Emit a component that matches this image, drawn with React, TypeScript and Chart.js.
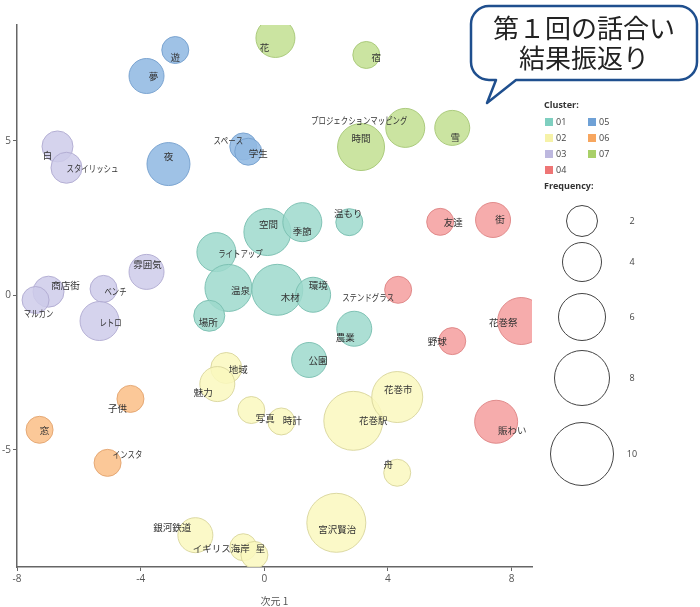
import React, { useEffect, useRef } from "react";
import { Chart, registerables } from "chart.js";

Chart.register(...registerables);

// ---- data ----
const clusterNames = ["01", "02", "03", "04", "05", "06", "07"];

const words = [
  "遊", "夢", "夜", "スペース", "学生",
  "花", "宿", "時間", "プロジェクションマッピング", "雪",
  "白", "スタイリッシュ", "商店街", "マルカン", "ベンチ", "雰囲気", "レトロ",
  "空間", "季節", "温もり", "ライトアップ", "温泉", "木材", "環境", "場所", "農業", "公園",
  "友達", "街", "ステンドグラス", "花巻祭", "野球", "賑わい",
  "地域", "魅力", "写真", "時計", "花巻駅", "花巻市", "舟", "宮沢賢治", "銀河鉄道", "イギリス海岸", "星",
  "子供", "窓", "インスタ",
];

const clusterOf = [
  "05", "05", "05", "05", "05",
  "07", "07", "07", "07", "07",
  "03", "03", "03", "03", "03", "03", "03",
  "01", "01", "01", "01", "01", "01", "01", "01", "01", "01",
  "04", "04", "04", "04", "04", "04",
  "02", "02", "02", "02", "02", "02", "02", "02", "02", "02", "02",
  "06", "06", "06",
];

const dim1 = [
  -2.88, -3.81, -3.10, -0.68, -0.52,
  0.36, 3.30, 3.13, 4.56, 6.08,
  -6.69, -6.40, -6.98, -7.40, -5.20, -3.81, -5.33,
  0.10, 1.23, 2.75, -1.55, -1.16, 0.42, 1.58, -1.78, 2.91, 1.45,
  5.69, 7.40, 4.33, 8.31, 6.08, 7.50,
  -1.23, -1.52, -0.42, 0.55, 2.88, 4.30, 4.30, 2.33, -2.23, -0.68, -0.32,
  -4.33, -7.27, -5.07,
];

const dim2 = [
  7.94, 7.10, 4.25, 4.82, 4.65,
  8.33, 7.78, 4.80, 5.42, 5.42,
  4.82, 4.13, 0.12, -0.15, 0.21, 0.76, -0.83,
  2.05, 2.37, 2.37, 1.40, 0.24, 0.18, 0.02, -0.66, -1.08, -2.09,
  2.38, 2.44, 0.18, -0.83, -1.48, -4.09,
  -2.35, -2.87, -3.71, -4.08, -4.06, -3.29, -5.74, -7.36, -7.76, -8.15, -8.40,
  -3.35, -4.35, -5.42,
];

const frequency = [
  1, 3, 5, 1, 1,
  4, 1, 6, 4, 3,
  2, 2, 2, 1, 1, 3, 4,
  6, 4, 1, 4, 6, 7, 3, 2, 3, 3,
  1, 3, 1, 6, 1, 5,
  2, 3, 1, 1, 9, 7, 1, 9, 3, 1, 1,
  1, 1, 1,
];

const xTicks = [-8, -4, 0, 4, 8];
const yTicks = [-5, 0, 5];
const legendFrequencies = [2, 4, 6, 8, 10];
const xAxisTitle = "次元 1";
const calloutLines = ["第１回の話合い", "結果振返り"];

// ---- styles ----
const labelDx = [
  0, 7, 0, -15, 10,
  -11, 10, 0, -46, 3,
  -10, 26, 17, 3, 12, 1, 11,
  1, 0, -1, 24, 12, 13, 5, -1, -9, 9,
  13, 7, -30, -18, -15, 16,
  12, -14, 14, 11, 20, 1, -9, 1, -23, -22, 6,
  -13, 5, 20,
];
const labelDy = [
  7, 0, -8, -6, 2,
  9, 2, -9, -8, 9,
  9, 1, -6, 13, 2, -8, 1,
  -8, 9, -9, 1, 2, 8, -9, 7, 9, 0,
  1, -1, 8, 1, 0, 9,
  1, 8, 8, -1, 0, -8, -8, 7, -8, 1, -7,
  9, 1, -8,
];

const fillColors: Record<string, string> = {
  "01": "rgba(158,217,204,0.85)",
  "02": "rgba(250,248,190,0.85)",
  "03": "rgba(206,203,234,0.85)",
  "04": "rgba(245,160,160,0.88)",
  "05": "rgba(146,186,226,0.88)",
  "06": "rgba(250,192,138,0.88)",
  "07": "rgba(196,224,148,0.88)",
};
const borderColors: Record<string, string> = {
  "01": "rgba(120,190,175,0.9)",
  "02": "rgba(216,213,155,0.9)",
  "03": "rgba(175,170,208,0.9)",
  "04": "rgba(222,132,132,0.9)",
  "05": "rgba(115,158,205,0.9)",
  "06": "rgba(226,163,110,0.9)",
  "07": "rgba(165,198,116,0.9)",
};
const swatchColors: Record<string, string> = {
  "01": "#7fcfc0",
  "02": "#f6f2a8",
  "03": "#bdb8df",
  "04": "#ee7575",
  "05": "#6fa1d6",
  "06": "#f7a65f",
  "07": "#a9d068",
};

const radiusOf = (f: number) => 11.5 + 2 * f;
const JP = "'Noto Sans CJK JP', 'Noto Sans', sans-serif";
const LAT = "'Open Sans', 'Liberation Sans', sans-serif";
const isKana = (s: string) => /^[\u30A0-\u30FF]+$/.test(s);

const overlayPlugin = {
  id: "overlay",
  afterDatasetsDraw(chart: any) {
    const ctx = chart.ctx as CanvasRenderingContext2D;
    ctx.save();
    ctx.font = `9.5px ${JP}`;
    ctx.fillStyle = "#333";
    ctx.textAlign = "center";
    ctx.textBaseline = "middle";
    chart.data.datasets.forEach((ds: any, di: number) => {
      const meta = chart.getDatasetMeta(di);
      meta.data.forEach((el: any, j: number) => {
        const idx = ds.data[j].i;
        const t = words[idx];
        const w = ctx.measureText(t).width;
        const x = el.x + labelDx[idx];
        const y = el.y + labelDy[idx];
        if (isKana(t)) ctx.fillText(t, x, y, w * 0.78);
        else ctx.fillText(t, x, y);
      });
    });
    ctx.restore();
  },
  afterDraw(chart: any) {
    const ctx = chart.ctx as CanvasRenderingContext2D;
    ctx.save();

    // legend: clusters
    ctx.fillStyle = "#333";
    ctx.textBaseline = "middle";
    ctx.textAlign = "left";
    ctx.font = `bold 9px ${LAT}`;
    ctx.fillText("Cluster:", 544, 105);
    ctx.font = `9px ${LAT}`;
    clusterNames.forEach((c, k) => {
      const col = k < 4 ? 0 : 1;
      const row = k < 4 ? k : k - 4;
      const sx = col === 0 ? 545 : 588;
      const sy = 122 + row * 16;
      ctx.fillStyle = swatchColors[c];
      ctx.fillRect(sx, sy - 4, 8, 8);
      ctx.fillStyle = "#444";
      ctx.fillText(c, sx + 11, sy);
    });

    // legend: frequency
    ctx.font = `bold 9px ${LAT}`;
    ctx.fillStyle = "#333";
    ctx.fillText("Frequency:", 544, 186);
    const cy = [221, 262, 317, 378, 454];
    ctx.strokeStyle = "#444";
    ctx.lineWidth = 1;
    ctx.font = `9px ${LAT}`;
    legendFrequencies.forEach((f, k) => {
      ctx.beginPath();
      ctx.arc(582, cy[k], radiusOf(f), 0, Math.PI * 2);
      ctx.stroke();
      ctx.fillStyle = "#444";
      ctx.textAlign = "center";
      ctx.fillText(String(f), 632, cy[k]);
    });

    // callout balloon
    const x0 = 471, y0 = 6, x1 = 697, y1 = 80, r = 18;
    ctx.beginPath();
    ctx.moveTo(x0 + r, y0);
    ctx.lineTo(x1 - r, y0);
    ctx.arcTo(x1, y0, x1, y0 + r, r);
    ctx.lineTo(x1, y1 - r);
    ctx.arcTo(x1, y1, x1 - r, y1, r);
    ctx.lineTo(516, y1);
    ctx.lineTo(487, 103);
    ctx.lineTo(496, y1);
    ctx.lineTo(x0 + r, y1);
    ctx.arcTo(x0, y1, x0, y1 - r, r);
    ctx.lineTo(x0, y0 + r);
    ctx.arcTo(x0, y0, x0 + r, y0, r);
    ctx.closePath();
    ctx.fillStyle = "#fff";
    ctx.fill();
    ctx.strokeStyle = "#1f4f8e";
    ctx.lineWidth = 2.5;
    ctx.lineJoin = "round";
    ctx.stroke();
    ctx.fillStyle = "#222";
    ctx.textAlign = "center";
    ctx.font = `26px ${JP}`;
    ctx.fillText(calloutLines[0], 584, 28);
    ctx.fillText(calloutLines[1], 584, 58);

    ctx.restore();
  },
};

export default function App() {
  const ref = useRef<HTMLCanvasElement | null>(null);

  useEffect(() => {
    if (!ref.current) return;
    const datasets = clusterNames.map((c) => ({
      label: c,
      data: words
        .map((_, i) => i)
        .filter((i) => clusterOf[i] === c)
        .map((i) => ({ x: dim1[i], y: dim2[i], r: radiusOf(frequency[i]), i })),
      backgroundColor: fillColors[c],
      borderColor: borderColors[c],
      borderWidth: 1,
      hoverBorderWidth: 1,
      clip: 0,
    }));

    const axisCommon = {
      type: "linear" as const,
      grid: { drawOnChartArea: false, drawTicks: true, tickLength: 4, color: "#666" },
      border: { display: true, color: "#666", width: 1.5 },
      ticks: { color: "#555", font: { size: 10, family: LAT }, padding: 2 },
    };

    const chart = new Chart(ref.current, {
      type: "bubble",
      data: { datasets },
      options: {
        responsive: false,
        animation: false,
        layout: { autoPadding: false, padding: { left: 1, right: 168, top: 25, bottom: 0 } },
        plugins: { legend: { display: false }, tooltip: { enabled: false } },
        scales: {
          x: {
            ...axisCommon,
            min: -8,
            max: 8.66,
            afterBuildTicks: (s: any) => {
              s.ticks = xTicks.map((v) => ({ value: v }));
            },
            afterFit: (s: any) => {
              s.height = 40;
            },
            title: {
              display: true,
              text: xAxisTitle,
              color: "#555",
              font: { size: 10, family: JP },
              padding: { top: 2, bottom: 0 },
            },
          },
          y: {
            ...axisCommon,
            min: -8.79,
            max: 8.75,
            afterBuildTicks: (s: any) => {
              s.ticks = yTicks.map((v) => ({ value: v }));
            },
            afterFit: (s: any) => {
              s.width = 16;
            },
          },
        },
      } as any,
      plugins: [overlayPlugin],
    });
    return () => chart.destroy();
  }, []);

  return (
    <div style={{ position: "fixed", left: 0, top: 0, width: 700, height: 607, background: "#fff" }}>
      <canvas ref={ref} width={700} height={607} style={{ display: "block", width: 700, height: 607 }} />
    </div>
  );
}
